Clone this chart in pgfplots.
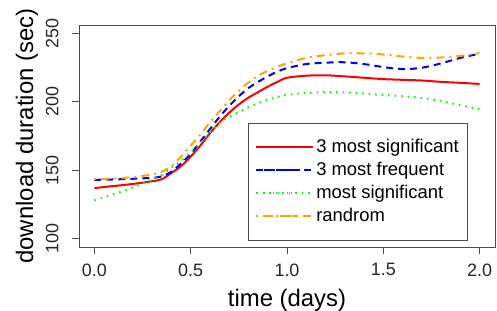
\documentclass[border=0pt]{standalone}
\usepackage{pgfplots}
\pgfplotsset{compat=1.18}
\usepackage{fontspec}
\setmainfont{Liberation Sans}
\definecolor{rorange}{RGB}{255,165,0}
\definecolor{rgreen}{RGB}{0,255,0}
\begin{document}
\begin{tikzpicture}
\begin{axis}[
  scale only axis, width=416bp, height=222bp,
  xmin=-0.08, xmax=2.08, ymin=94, ymax=256,
  xtick={0,0.5,1,1.5,2}, ytick={100,150,200,250},
  tick pos=left, tick align=outside, major tick length=7bp,
  tick style={black!70, line width=0.8bp},
  axis line style={black!70, line width=0.8bp},
  /pgf/number format/assume math mode=true,
  ticklabel style={font=\fontsize{18}{18}\selectfont, black!85},
  xticklabel style={/pgf/number format/fixed, /pgf/number format/fixed zerofill, /pgf/number format/precision=1},
  yticklabel style={rotate=90, anchor=south},
  xticklabel shift=6bp, yticklabel shift=10bp,
  xlabel={time (days)}, ylabel={download duration (sec)},
  every axis x label/.style={at={(axis description cs:0.5,-0.266)}, anchor=base, font=\fontsize{24}{24}\selectfont},
  every axis y label/.style={at={(axis description cs:-0.125,0.5)}, rotate=90, anchor=center, font=\fontsize{24}{24}\selectfont},
  legend style={at={(0.406,0.03)}, anchor=south west, draw=black!70, line width=0.8bp,
    font=\fontsize{18.5}{22}\selectfont, inner xsep=7bp, inner ysep=14.5bp, row sep=4.2bp},
  legend cell align=left,
]
\addplot[draw=red, line width=2bp, smooth,
  legend image code/.code={\path (0bp,0bp) -- (57bp,0bp); \draw[red, line width=1.2bp] (8bp,0bp) -- (44bp,0bp);}] coordinates {
(0,137) (0.1,138.5) (0.2,140) (0.3,142) (0.35,143.5) (0.4,148) (0.45,153) (0.5,160) (0.55,168) (0.6,177) (0.65,185) (0.7,192) (0.75,198) (0.8,203) (0.85,207) (0.9,211) (0.95,214.5) (1.0,217.5) (1.1,219) (1.2,219.3) (1.3,218.5) (1.4,217.5) (1.5,216.5) (1.6,216) (1.7,215.5) (1.8,214.5) (1.9,213.8) (2.0,213)};
\addlegendentry{3 most significant}
\addplot[draw=blue, line width=2bp, smooth, dash pattern=on 7bp off 5bp,
  legend image code/.code={\path (0bp,0bp) -- (57bp,0bp); \draw[blue, line width=1.2bp, dash pattern=on 5bp off 6.5bp] (8bp,0bp) -- (44bp,0bp);}] coordinates {
(0,143) (0.1,143.3) (0.2,143.8) (0.3,144.5) (0.35,145.5) (0.4,149) (0.45,155) (0.5,162) (0.55,171) (0.6,180) (0.65,189) (0.7,197) (0.75,204) (0.8,210) (0.85,214.5) (0.9,218.5) (0.95,222) (1.0,224.5) (1.1,227.5) (1.2,228.5) (1.3,228.8) (1.4,227.5) (1.5,225.3) (1.6,223.8) (1.7,224.8) (1.8,228) (1.9,232) (2.0,235)};
\addlegendentry{3 most frequent}
\addplot[draw=rgreen, line width=2bp, smooth, dash pattern=on 1.5bp off 5bp,
  legend image code/.code={\path (0bp,0bp) -- (57bp,0bp); \draw[rgreen, line width=1.2bp, dash pattern=on 1bp off 3.5bp] (8bp,0bp) -- (44bp,0bp);}] coordinates {
(0,128) (0.1,132.5) (0.2,137.5) (0.3,143) (0.35,146.5) (0.4,152) (0.45,157) (0.5,163) (0.55,170) (0.6,178) (0.65,184.5) (0.7,189) (0.75,192.5) (0.8,196) (0.85,199) (0.9,201.5) (0.95,203.5) (1.0,205) (1.1,206.5) (1.2,207) (1.3,206.8) (1.4,206) (1.5,205) (1.6,204) (1.7,202.8) (1.8,200.5) (1.9,197.5) (2.0,194.5)};
\addlegendentry{most significant}
\addplot[draw=rorange, line width=2bp, smooth, dash pattern=on 2bp off 5bp on 8bp off 5bp,
  legend image code/.code={\path (0bp,0bp) -- (57bp,0bp); \draw[rorange, line width=1.2bp, dash pattern=on 1bp off 3bp on 5bp off 3bp] (8bp,0bp) -- (44bp,0bp);}] coordinates {
(0,143.5) (0.1,144) (0.2,145) (0.3,147) (0.35,149) (0.4,153) (0.45,160) (0.5,168) (0.55,176) (0.6,185) (0.65,193) (0.7,201) (0.75,208) (0.8,214) (0.85,219) (0.9,222.5) (0.95,225.5) (1.0,228) (1.1,232) (1.2,234) (1.3,235.3) (1.4,235.3) (1.5,234.5) (1.6,233) (1.7,232) (1.8,232.3) (1.9,233.5) (2.0,235.5)};
\addlegendentry{randrom}
\end{axis}
\pgfresetboundingbox
\path (-79bp,-64bp) rectangle (418bp,247bp);
\end{tikzpicture}
\end{document}
